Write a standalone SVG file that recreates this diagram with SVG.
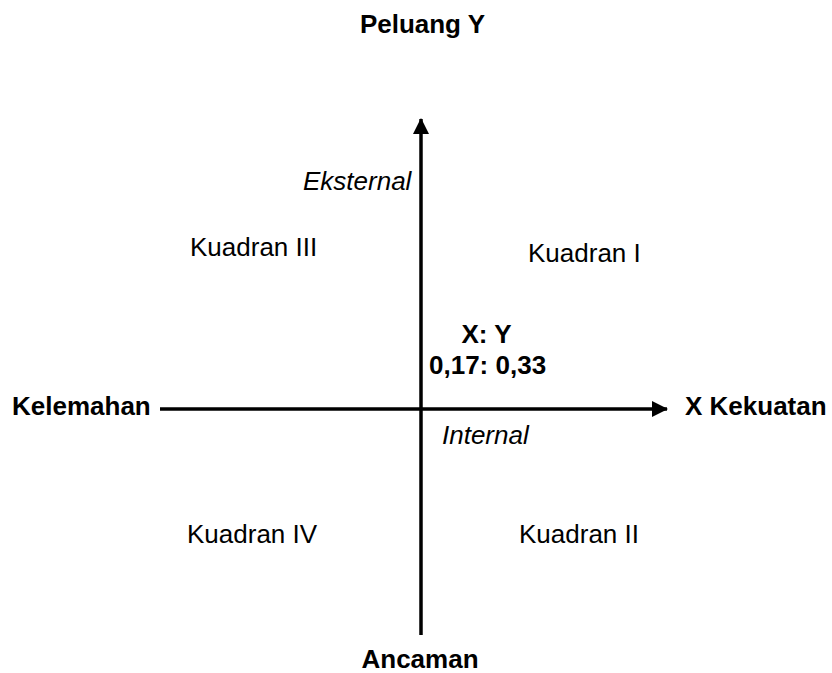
<svg xmlns="http://www.w3.org/2000/svg" width="832" height="673" viewBox="0 0 832 673">
<style>
text{font-family:"Liberation Sans",Arial,sans-serif;font-size:26px;fill:#000}
.b{font-weight:bold}
.i{font-style:italic}
.axis{stroke:#000;stroke-width:3.5;fill:none}
</style>
<defs>
<marker id="ah" markerUnits="userSpaceOnUse" markerWidth="16" markerHeight="16" viewBox="0 0 16 16" refX="15" refY="8" orient="auto">
<path d="M0,0 L16,8 L0,16 Z" fill="#000"/>
</marker>
</defs>
<rect width="832" height="673" fill="#fff"/>
<g id="connectors">
<line class="axis" x1="421" y1="635" x2="421" y2="119" marker-end="url(#ah)"/>
<line class="axis" x1="160" y1="409" x2="667" y2="409" marker-end="url(#ah)"/>
</g>
<g id="peluang"><text class="b" x="422.5" y="33" text-anchor="middle">Peluang Y</text></g>
<g id="kelemahan"><text class="b" x="12" y="415">Kelemahan</text></g>
<g id="kekuatan"><text class="b" x="685" y="415">X Kekuatan</text></g>
<g id="ancaman"><text class="b" x="420" y="668" text-anchor="middle">Ancaman</text></g>
<g id="eksternal"><text class="i" x="303" y="190">Eksternal</text></g>
<g id="internal"><text class="i" x="442" y="444">Internal</text></g>
<g id="k3"><text x="190" y="256">Kuadran III</text></g>
<g id="k1"><text x="528" y="262">Kuadran I</text></g>
<g id="k4"><text x="187" y="543">Kuadran IV</text></g>
<g id="k2"><text x="519" y="543">Kuadran II</text></g>
<g id="point">
<text class="b" x="486.5" y="343" text-anchor="middle">X: Y</text>
<text class="b" x="429" y="374">0,17: 0,33</text>
</g>
</svg>
